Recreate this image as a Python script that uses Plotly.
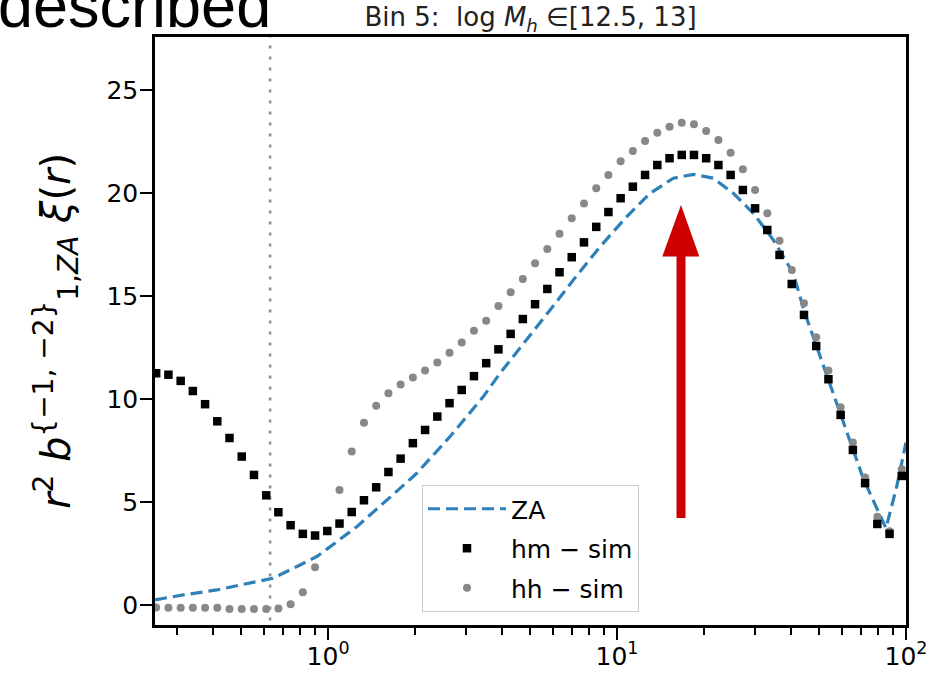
import plotly.graph_objects as go

# ---------------- data ----------------
r_bins = [0.2541, 0.2802, 0.3089, 0.3404, 0.3752, 0.4136, 0.4559, 0.5026, 0.5541, 0.6108,
          0.6730, 0.7418, 0.8177, 0.9014, 0.9936, 1.0952, 1.2073, 1.3309, 1.4671, 1.6173,
          1.7824, 1.9652, 2.1661, 2.3878, 2.6318, 2.9007, 3.1977, 3.5251, 3.8862, 4.2837,
          4.7206, 5.2031, 5.7376, 6.3226, 6.9695, 7.6837, 8.4723, 9.3355, 10.290, 11.343,
          12.503, 13.784, 15.194, 16.748, 18.460, 20.346, 22.429, 24.725, 27.255, 30.044,
          33.113, 36.502, 40.237, 44.359, 48.895, 53.901, 59.407, 65.481, 72.194, 79.578,
          87.700, 96.670]

hm_sim = [11.26, 11.19, 10.89, 10.40, 9.76, 8.93, 8.12, 7.22, 6.33, 5.34,
          4.52, 3.89, 3.47, 3.39, 3.61, 3.97, 4.53, 5.10, 5.73, 6.47,
          7.12, 7.87, 8.51, 9.16, 9.81, 10.45, 11.12, 11.75, 12.42, 13.17,
          13.89, 14.61, 15.35, 16.16, 16.89, 17.61, 18.36, 19.08, 19.75, 20.31,
          20.88, 21.36, 21.69, 21.85, 21.85, 21.69, 21.36, 20.88, 20.15, 19.26,
          18.21, 17.00, 15.59, 14.09, 12.58, 10.97, 9.24, 7.54, 5.93, 3.95,
          3.47, 6.28]

hh_sim = [-0.10, -0.11, -0.11, -0.11, -0.11, -0.11, -0.17, -0.17, -0.17, -0.17,
          -0.15, 0.06, 0.64, 1.85, 3.60, 5.60, 7.46, 8.86, 9.68, 10.29,
          10.71, 11.05, 11.39, 11.78, 12.26, 12.75, 13.32, 13.81, 14.52, 15.19,
          15.83, 16.60, 17.29, 18.03, 18.78, 19.49, 20.23, 20.88, 21.54, 22.04,
          22.53, 22.93, 23.22, 23.41, 23.34, 23.01, 22.58, 21.96, 21.15, 20.15,
          19.02, 17.69, 16.27, 14.66, 13.01, 11.39, 9.61, 7.90, 6.20, 4.30,
          3.60, 6.60]

za_r = [0.252, 0.3156, 0.412, 0.537, 0.644, 0.800, 0.914, 1.072, 1.257, 1.554,
        2.027, 2.643, 3.446, 3.937, 4.870, 5.865, 7.062, 8.736, 10.805, 13.01,
        15.66, 18.37, 21.54, 25.26, 29.62, 34.74, 40.74, 44.36, 49.09, 59.10,
        71.15, 78.73, 85.25, 92.86, 100.0]
za_y = [0.27, 0.51, 0.75, 1.08, 1.32, 1.96, 2.37, 3.09, 3.82, 4.96,
        6.41, 8.19, 10.13, 11.26, 12.88, 14.33, 15.79, 17.40, 18.86, 19.99,
        20.72, 20.91, 20.72, 19.99, 19.02, 17.73, 16.11, 14.30, 12.55, 9.40,
        6.15, 4.80, 3.75, 5.76, 7.90]

r_cut = 0.63

x_major_vals = [1, 10, 100]
x_major_text = ["10<sup>0</sup>", "10<sup>1</sup>", "10<sup>2</sup>"]
x_minor_vals = [0.3, 0.4, 0.5, 0.6, 0.7, 0.8, 0.9,
                2, 3, 4, 5, 6, 7, 8, 9,
                20, 30, 40, 50, 60, 70, 80, 90]
y_tick_vals = [0, 5, 10, 15, 20, 25]

FONT = "DejaVu Sans"

fig = go.Figure()

# vertical dotted reference line
fig.add_trace(go.Scatter(
    x=[r_cut, r_cut], y=[-5, 40], mode="lines",
    line=dict(color="#8f8f8f", width=2.6, dash="3px,8px"),
    showlegend=False, hoverinfo="skip"))

fig.add_trace(go.Scatter(
    x=za_r, y=za_y, mode="lines", name="ZA", legendrank=1, legendgroup="a",
    line=dict(color="#2f80b8", width=3.2, dash="12px,6px")))

fig.add_trace(go.Scatter(
    x=r_bins, y=hh_sim, mode="markers", name="hh \u2212 sim", legendrank=3, legendgroup="c",
    marker=dict(symbol="circle", size=8, color="#888888")))

fig.add_trace(go.Scatter(
    x=r_bins, y=hm_sim, mode="markers", name="hm \u2212 sim", legendrank=2, legendgroup="b",
    marker=dict(symbol="square", size=8.5, color="black")))

# plot area in pixels: x 155..906, y 37..625
PL, PR, PT, PB = 155, 906, 37, 625
W, H = PR - PL, PB - PT

def px(x):
    return (x - PL) / W

def py(y):
    return (PB - y) / H

# red arrow (annotation overlay)
arrow_red = "#cc0000"
fig.add_shape(type="rect", xref="paper", yref="paper",
              x0=px(676.5), x1=px(685.5), y0=py(518), y1=py(254),
              fillcolor=arrow_red, line=dict(width=0))
fig.add_shape(type="path", xref="paper", yref="paper",
              path=f"M {px(662.3)} {py(256.5)} L {px(699.3)} {py(256.5)} L {px(681)} {py(205)} Z",
              fillcolor=arrow_red, line=dict(width=0))

# cropped slide text at top-left
fig.add_annotation(text="described", xref="paper", yref="paper",
                   x=px(-4), y=py(42), xanchor="left", yanchor="bottom",
                   showarrow=False,
                   font=dict(family="Liberation Sans", size=63, color="black"))

fig.update_layout(
    width=935, height=674,
    margin=dict(l=PL, r=935 - PR, t=PT, b=674 - PB, autoexpand=False),
    paper_bgcolor="white", plot_bgcolor="white",
    font=dict(family=FONT, color="black"),
    title=dict(text="Bin 5:\u00a0\u00a0log <i>M</i><sub><i>h</i></sub> \u2208[12.5, 13]",
               x=0.5, xref="paper", xanchor="center",
               y=1 - 17 / 674, yref="container", yanchor="middle",
               font=dict(family=FONT, size=26, color="#222222")),
    showlegend=True,
    legend=dict(x=px(422), y=py(485), xanchor="left", yanchor="top",
                bgcolor="rgba(255,255,255,0.85)", bordercolor="#cccccc", borderwidth=1,
                font=dict(family=FONT, size=25, color="black"),
                traceorder="grouped", itemwidth=78, tracegroupgap=4),
)

fig.update_xaxes(
    type="log", range=[-0.599, 2.0], automargin=False,
    showgrid=False, zeroline=False,
    showline=True, linecolor="black", linewidth=2.6, mirror=True,
    tickmode="array", tickvals=x_major_vals, ticktext=x_major_text,
    ticks="outside", ticklen=12, tickwidth=2, tickcolor="black",
    ticklabelstandoff=-5,
    tickfont=dict(family=FONT, size=25, color="black"),
    minor=dict(tickmode="array", tickvals=x_minor_vals, ticks="outside",
               ticklen=7, tickwidth=2, tickcolor="black", showgrid=False),
)

fig.update_yaxes(
    range=[-0.95, 27.57], automargin=False,
    showgrid=False, zeroline=False,
    showline=True, linecolor="black", linewidth=2.6, mirror=True,
    tickmode="array", tickvals=y_tick_vals,
    ticks="outside", ticklen=12, tickwidth=2, tickcolor="black",
    ticklabelstandoff=-3,
    tickfont=dict(family=FONT, size=25, color="black"),
    title=dict(text="<i>r</i><sup>2</sup> <i>b</i><sup>{\u22121, \u22122}</sup><sub>1,<i>ZA</i></sub> <i>\u03be</i>(<i>r</i>)",
               font=dict(family=FONT, size=40, color="black"), standoff=24),
)

fig.write_html("out.html",
               config={"displayModeBar": False},
               post_script="document.body.style.margin='0';document.body.style.overflow='hidden';")
